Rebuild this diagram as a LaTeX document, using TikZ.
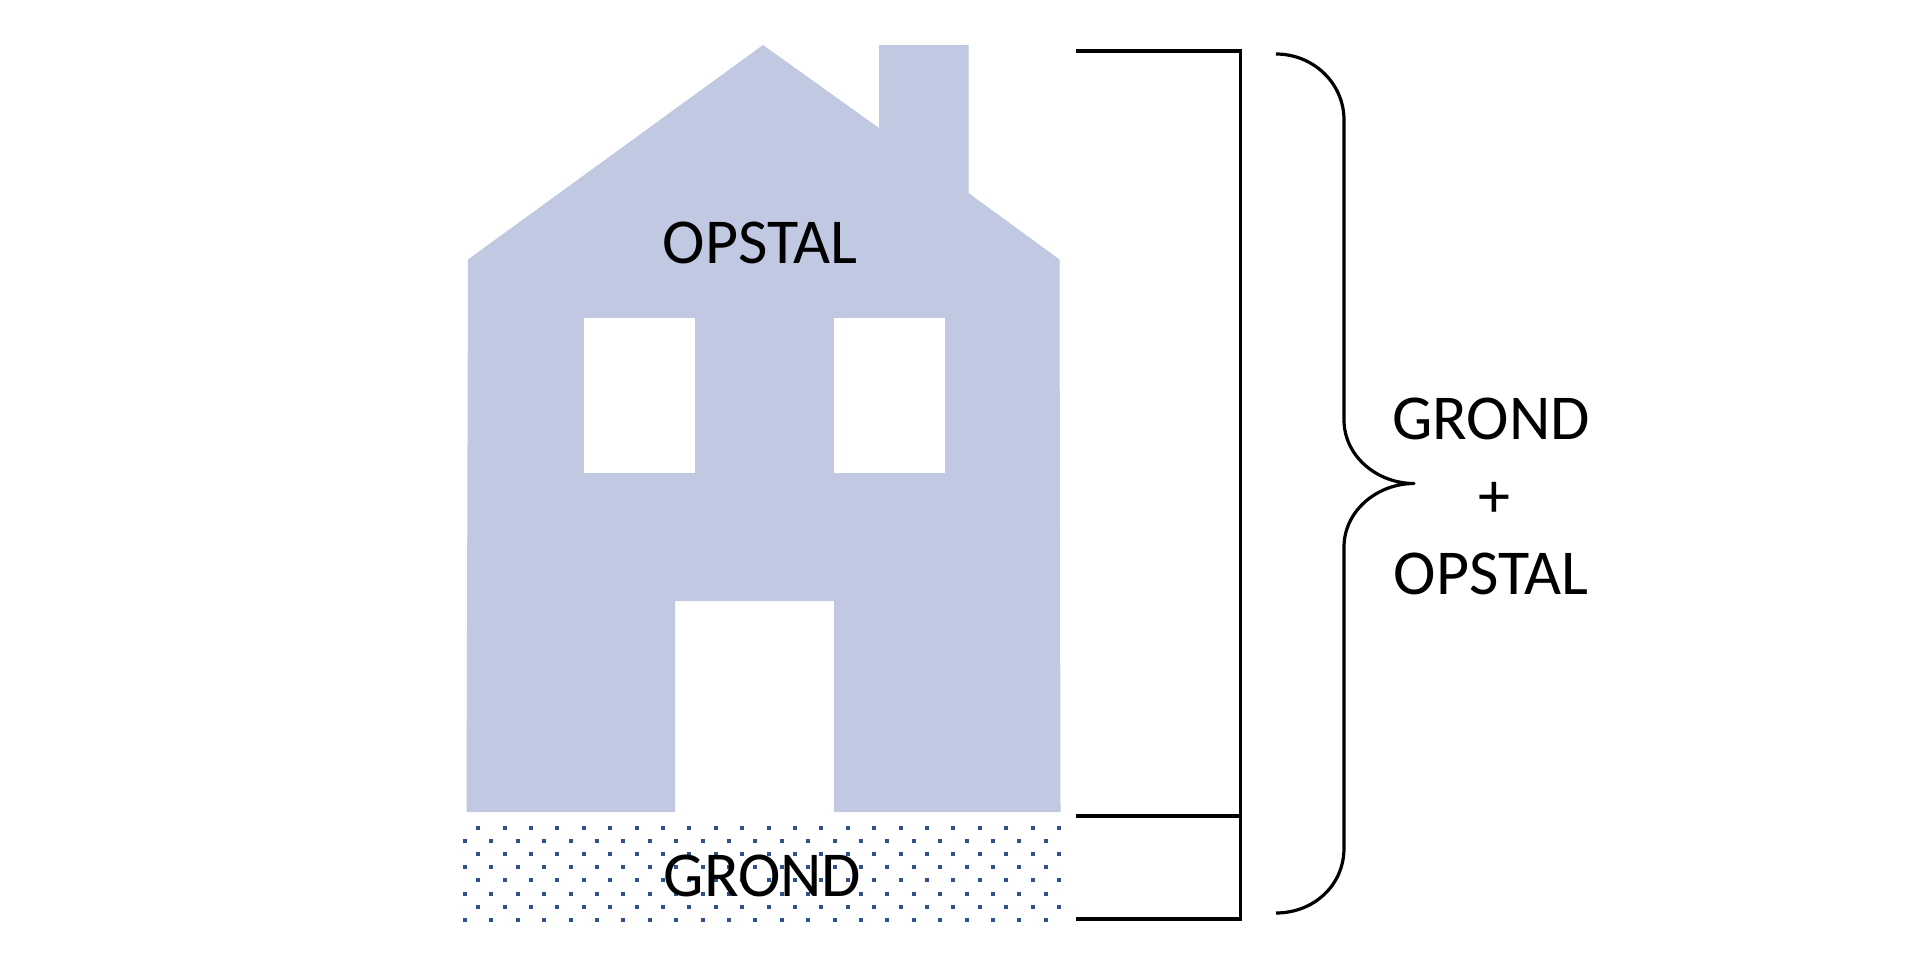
\documentclass[tikz,border=0pt]{standalone}
\usepackage{fontspec}
\setmainfont{Carlito}
\definecolor{housefill}{HTML}{C1C9E2}
\definecolor{dotblue}{HTML}{2F5288}
\tikzset{
  housebody/.style={fill=housefill,draw=none},
  opening/.style={fill=white,draw=none},
  label/.style={font=\fontsize{64}{64}\selectfont,inner sep=0pt,text=black},
  bracketline/.style={draw=black,line width=3.2pt,line cap=butt},
  braceline/.style={draw=black,line width=3.2pt,line cap=butt,line join=round},
  sanddot/.style={fill=dotblue,draw=none}
}
\begin{document}
\begin{tikzpicture}[x=1pt,y=-1pt]
\useasboundingbox (0,0) rectangle (1922,967);
\fill[white] (0,0) rectangle (1922,967);
% house silhouette
\path[housebody] (466.5,812) -- (468,259.5) -- (763,45) -- (879,128) -- (879,45) -- (968.5,45)
  -- (968.5,193) -- (1059.5,259.5) -- (1060.5,812) -- (834,812) -- (834,601) -- (675,601) -- (675,812) -- cycle;
\path[opening] (584,318) rectangle (695,473);
\path[opening] (834,318) rectangle (945,473);
% ground dots
\foreach \r in {0,2,4,6}{
  \foreach \c in {0,...,22}{
    \path[sanddot] ({round(478.3+26.4*\c)-2},{round(827.7+13.2*\r)-2}) rectangle ++(4,4);
  }
}
\foreach \r in {1,3,5,7}{
  \foreach \c in {0,...,22}{
    \path[sanddot] ({round(465+26.4*\c)-2},{round(827.7+13.2*\r)-2}) rectangle ++(4,4);
  }
}
% labels
\node[label] (opstal) at (760,243) {OPSTAL};
\node[label] (grond) at (762.5,876) {GROND};
\node[label] (sumgrond) at (1491,419) {GROND};
\node[label] (sumplus) at (1494,500) {+};
\node[label] (sumopstal) at (1491,574) {OPSTAL};
% bracket
\coordinate (btl) at (1076,51);
\coordinate (btr) at (1240.5,51);
\coordinate (bml) at (1076,816);
\coordinate (bmr) at (1240.5,816);
\coordinate (bbl) at (1076,919);
\coordinate (bbr) at (1240.5,919);
\draw[bracketline] (btl) -- (btr) -- (bbr) -- (bbl);
\draw[bracketline,line width=4.2pt] (bml) -- (bmr);
% brace
\coordinate (bracetop) at (1276,54);
\coordinate (bracetip) at (1414,483.5);
\coordinate (bracebot) at (1276,913);
\draw[braceline] (bracetop) .. controls (1313,54) and (1344,83) .. (1344,120)
  -- (1344,420) .. controls (1344,456) and (1377,483.5) .. (bracetip)
  .. controls (1377,483.5) and (1344,511) .. (1344,547)
  -- (1344,848) .. controls (1344,886) and (1313,913) .. (bracebot);
\end{tikzpicture}
\end{document}
